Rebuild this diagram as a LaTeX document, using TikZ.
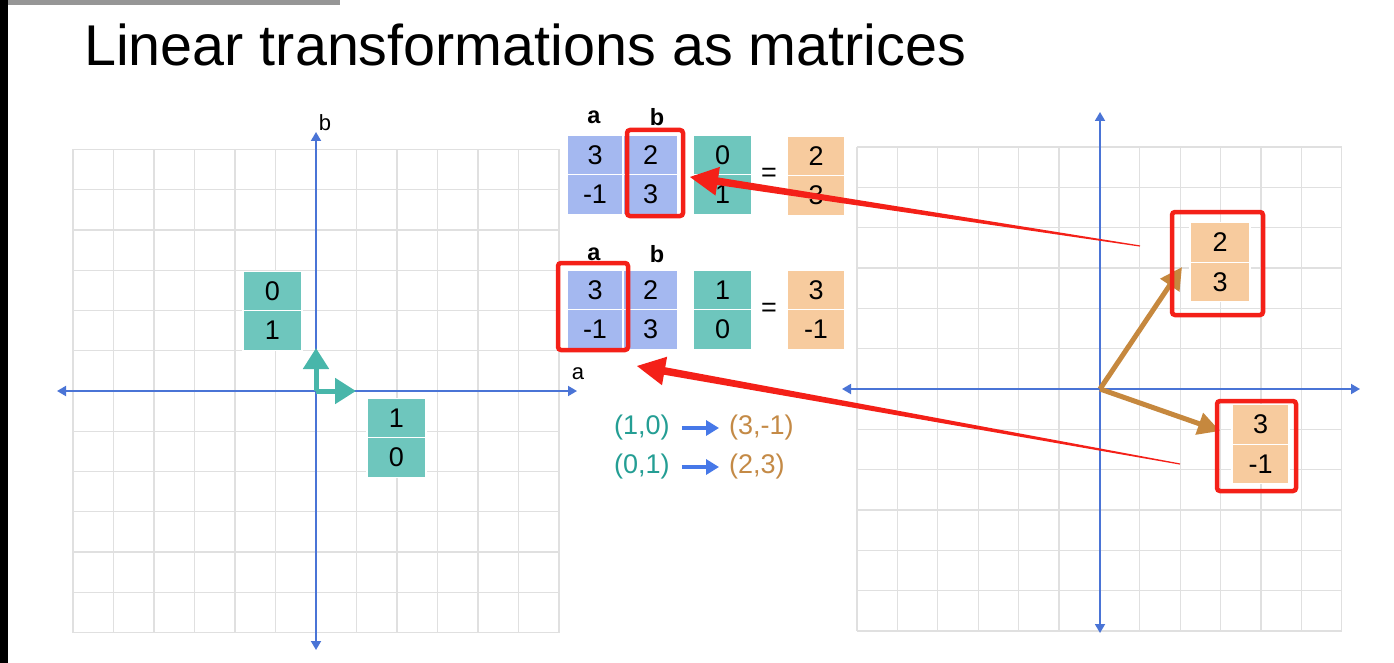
\documentclass[tikz,border=0pt]{standalone}
\usepackage{fontspec}
\setmainfont{Liberation Sans}
\usetikzlibrary{arrows.meta,calc}
\definecolor{gridc}{RGB}{224,224,224}
\definecolor{axisc}{RGB}{74,116,214}
\definecolor{blueq}{RGB}{164,184,240}
\definecolor{tealq}{RGB}{110,198,189}
\definecolor{tealv}{RGB}{72,182,170}
\definecolor{orangeq}{RGB}{247,203,158}
\definecolor{brownv}{RGB}{198,136,62}
\definecolor{redc}{RGB}{244,32,24}
\definecolor{tealtxt}{RGB}{36,158,148}
\definecolor{browntxt}{RGB}{196,138,70}
\definecolor{arrowblue}{RGB}{70,120,232}
\definecolor{graybar}{RGB}{150,150,150}
\newcommand\taperarrow[2]{%
  \coordinate (tb) at ($(#2)!28pt!(#1)$);
  \fill[redc] ($(#1)!0.6pt!90:(#2)$) -- ($(tb)!3.8pt!90:(#2)$) -- ($(tb)!14.5pt!90:(#2)$) -- (#2)
    -- ($(tb)!14.5pt!-90:(#2)$) -- ($(tb)!3.8pt!-90:(#2)$) -- ($(#1)!0.6pt!-90:(#2)$) -- cycle;}
\begin{document}
\begin{tikzpicture}[x=1pt,y=-1pt,
  gridl/.style={draw=gridc,line width=1.1pt},
  axis/.style={draw=axisc,line width=1.8pt,{Triangle[length=9pt,width=10pt]}-{Triangle[length=9pt,width=10pt]}},
  cell/.style={rectangle,draw=white,line width=1.2pt,inner sep=0pt,minimum height=39.5pt,font=\fontsize{27}{27}\selectfont},
  redbox/.style={rectangle,draw=redc,line width=4.5pt,rounded corners=3pt,inner sep=0pt},
  lbl/.style={font=\bfseries\fontsize{23.5}{23.5}\selectfont},
  axlbl/.style={font=\fontsize{22}{22}\selectfont},
  tealarrow/.style={draw=tealv,line width=5pt,-{Triangle[length=21pt,width=25pt]}},
  brownarrow/.style={draw=brownv,line width=5pt,-{Triangle[length=22pt,width=22pt]}},
  maparrow/.style={draw=arrowblue,line width=3.5pt,-{Triangle[length=13pt,width=15pt]}},
  maptxt/.style={font=\fontsize{27}{27}\selectfont,inner sep=0pt}]
\useasboundingbox (0,0) rectangle (1394,663);
\fill[white] (0,0) rectangle (1394,663);
\fill[black] (0,0) rectangle (8,663);
\fill[graybar] (8,0) rectangle (340,5);

% title
\node[anchor=base west,inner sep=0pt,font=\fontsize{57.5}{60}\selectfont] (title) at (84,66) {Linear transformations as matrices};

% left grid
\foreach \i in {0,...,12} {
  \draw[gridl] ({73+\i*40.5},149.5) -- ({73+\i*40.5},632.5);
  \draw[gridl] (73,{149.5+\i*40.25}) -- (559,{149.5+\i*40.25});
}
% right grid
\foreach \i in {0,...,12} {
  \draw[gridl] ({857+\i*40.4},147) -- ({857+\i*40.4},631);
  \draw[gridl] (857,{147+\i*40.33}) -- (1342,{147+\i*40.33});
}

% left axes
\coordinate (lxl) at (57,391); \coordinate (lxr) at (577,391);
\coordinate (lyt) at (316,132); \coordinate (lyb) at (316,650);
\draw[axis] (lxl) -- (lxr);
\draw[axis] (lyb) -- (lyt);
\node[axlbl] (la) at (578,374) {a};
\node[axlbl] (lb) at (325,123) {b};

% right axes
\coordinate (rxl) at (842,389); \coordinate (rxr) at (1360,389);
\coordinate (ryt) at (1100,112); \coordinate (ryb) at (1100,633);
\draw[axis] (rxl) -- (rxr);
\draw[axis] (ryb) -- (ryt);

% left vectors boxes
\node[cell,fill=tealq,minimum width=59pt] (e2t) at (272.5,291) {0};
\node[cell,fill=tealq,minimum width=59pt] (e2b) at (272.5,330.5) {1};
\node[cell,fill=tealq,minimum width=59pt] (e1t) at (396.5,418) {1};
\node[cell,fill=tealq,minimum width=59pt] (e1b) at (396.5,457.5) {0};

% teal basis arrows
\coordinate (lo) at (316,391);
\coordinate (le1) at (356,391);
\coordinate (le2) at (316,348);
\draw[tealarrow] (lo) -- (le1);
\draw[tealarrow] (lo) -- (le2);

% right boxes
\node[cell,fill=orangeq,minimum width=60pt] (r23t) at (1220,242.5) {2};
\node[cell,fill=orangeq,minimum width=60pt] (r23b) at (1220,282) {3};
\node[cell,fill=orangeq,minimum width=57pt] (r31t) at (1260.5,424.5) {3};
\node[cell,fill=orangeq,minimum width=57pt] (r31b) at (1260.5,464) {-1};

% brown transformed vectors
\coordinate (ro) at (1100,389);
\coordinate (rt1) at (1182,267);
\coordinate (rt2) at (1220,431);
\draw[brownarrow] (ro) -- (rt1);
\draw[brownarrow] (ro) -- (rt2);

% top matrix equation
\node[lbl] (ta) at (594,117) {a};
\node[lbl] (tbl) at (657,117) {b};
\node[cell,fill=blueq,minimum width=56pt] (m1a1) at (595,155) {3};
\node[cell,fill=blueq,minimum width=56pt] (m1a2) at (595,194.5) {-1};
\node[cell,fill=blueq,minimum width=55pt] (m1b1) at (650.5,155) {2};
\node[cell,fill=blueq,minimum width=55pt] (m1b2) at (650.5,194.5) {3};
\node[cell,fill=tealq,minimum width=59pt] (v1t) at (722.5,155) {0};
\node[cell,fill=tealq,minimum width=59pt] (v1b) at (722.5,194.5) {1};
\node[font=\fontsize{27}{27}\selectfont] (eq1) at (769,175) {=};
\node[cell,fill=orangeq,minimum width=58pt] (o1t) at (816,156) {2};
\node[cell,fill=orangeq,minimum width=58pt] (o1b) at (816,195.5) {3};

% bottom matrix equation
\node[lbl] (ba) at (594,254) {a};
\node[lbl] (bbl) at (657,254) {b};
\node[cell,fill=blueq,minimum width=56pt] (m2a1) at (595,290) {3};
\node[cell,fill=blueq,minimum width=56pt] (m2a2) at (595,329.5) {-1};
\node[cell,fill=blueq,minimum width=55pt] (m2b1) at (650.5,290) {2};
\node[cell,fill=blueq,minimum width=55pt] (m2b2) at (650.5,329.5) {3};
\node[cell,fill=tealq,minimum width=59pt] (v2t) at (722.5,290) {1};
\node[cell,fill=tealq,minimum width=59pt] (v2b) at (722.5,329.5) {0};
\node[font=\fontsize{27}{27}\selectfont] (eq2) at (769,310) {=};
\node[cell,fill=orangeq,minimum width=58pt] (o2t) at (816,290) {3};
\node[cell,fill=orangeq,minimum width=58pt] (o2b) at (816,329.5) {-1};

% mapping text
\node[maptxt,text=tealtxt,anchor=west] (p10) at (614,428) {(1,0)};
\node[maptxt,text=browntxt,anchor=west] (q31) at (729,428) {(3,-1)};
\node[maptxt,text=tealtxt,anchor=west] (p01) at (614,467) {(0,1)};
\node[maptxt,text=browntxt,anchor=west] (q23) at (729,467) {(2,3)};
\draw[maparrow,shorten <=12pt,shorten >=10pt] (p10.east) -- (q31.west);
\draw[maparrow,shorten <=12pt,shorten >=10pt] (p01.east) -- (q23.west);

% red highlight boxes
\node[redbox,minimum width=56pt,minimum height=86pt] (hb1) at (655,173) {};
\node[redbox,minimum width=70pt,minimum height=87pt] (hb2) at (593,306.5) {};
\node[redbox,minimum width=91pt,minimum height=103pt] (hb3) at (1217.5,263.5) {};
\node[redbox,minimum width=79pt,minimum height=90pt] (hb4) at (1256.5,446) {};

% red tapered arrows
\coordinate (tail1) at (1140,246);
\coordinate (tip1) at (690,177);
\coordinate (tail2) at (1180,464);
\coordinate (tip2) at (637,366);
\taperarrow{tail1}{tip1}
\taperarrow{tail2}{tip2}
\end{tikzpicture}
\end{document}
